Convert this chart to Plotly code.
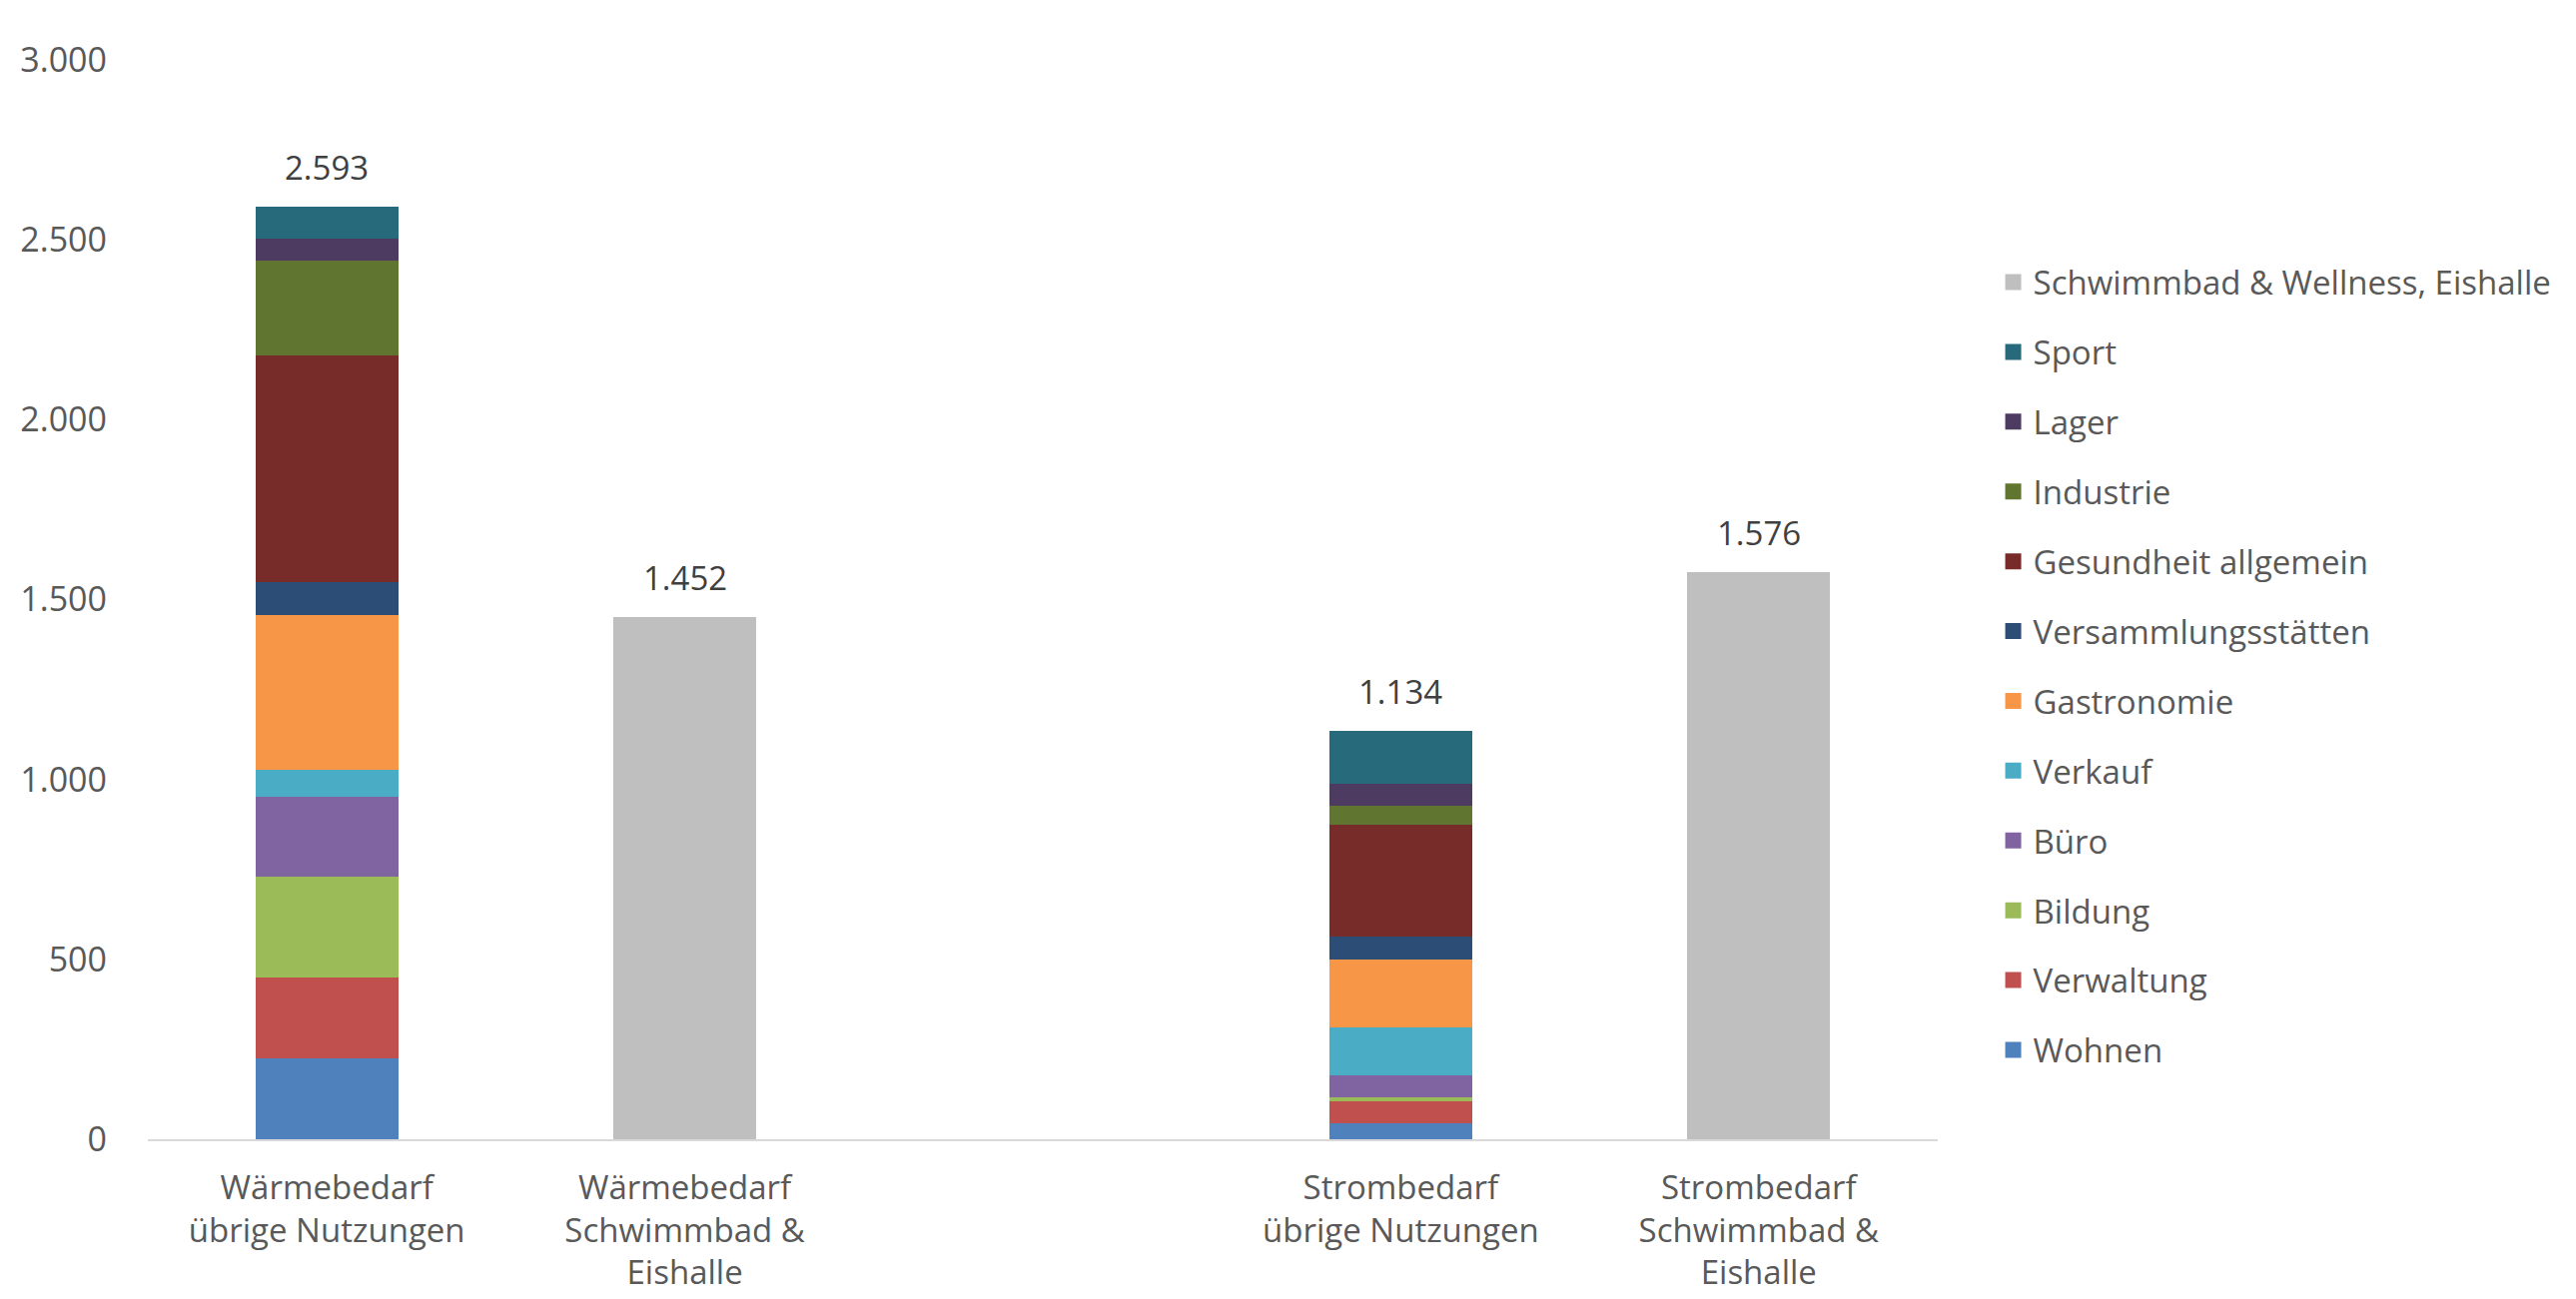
import plotly.graph_objects as go

categories = ["Wärmebedarf<br>übrige Nutzungen", "Wärmebedarf<br>Schwimmbad &<br>Eishalle", "",
              "Strombedarf<br>übrige Nutzungen", "Strombedarf<br>Schwimmbad &<br>Eishalle"]

# stacked segments for the "übrige Nutzungen" bars (Wärme, Strom)
series_names = ["Wohnen", "Verwaltung", "Bildung", "Büro", "Verkauf", "Gastronomie",
                "Versammlungsstätten", "Gesundheit allgemein", "Industrie", "Lager", "Sport"]
waerme_values = [224, 225, 280, 224, 74, 430, 91, 631, 264, 59, 91]
strom_values = [44, 62, 11, 61, 133, 189, 62, 313, 52, 60, 147]
series_colors = ["#4F81BD", "#C0504D", "#9BBB59", "#8064A2", "#4BACC6", "#F79646",
                 "#2C4D75", "#772C2A", "#5F7530", "#4D3B62", "#276A7C"]

pool_name = "Schwimmbad & Wellness, Eishalle"
pool_values = [1452, 1576]
pool_color = "#BFBFBF"

y_ticks = [0, 500, 1000, 1500, 2000, 2500, 3000]

idx_w_other = 0
idx_w_pool = 1
idx_s_other = 3
idx_s_pool = 4

FONT = "Open Sans"
fig = go.Figure()
for i, name in enumerate(series_names):
    fig.add_trace(go.Bar(
        x=[idx_w_other, idx_s_other], y=[waerme_values[i], strom_values[i]],
        name=name, marker=dict(color=series_colors[i], line=dict(width=0)),
        width=0.4, showlegend=False))
fig.add_trace(go.Bar(
    x=[idx_w_pool, idx_s_pool], y=pool_values, name=pool_name,
    marker=dict(color=pool_color, line=dict(width=0)), width=0.4, showlegend=False))

# legend entries (top to bottom: pool, then series in reverse stacking order)
legend_names = [pool_name] + series_names[::-1]
legend_colors = [pool_color] + series_colors[::-1]
for name, col in zip(legend_names, legend_colors):
    fig.add_trace(go.Scatter(
        x=[None], y=[None], mode="markers", name=name, legendgroup=name,
        marker=dict(symbol="square", size=16, color=col, line=dict(width=0))))

totals = [(idx_w_other, sum(waerme_values)), (idx_w_pool, pool_values[0]),
          (idx_s_other, sum(strom_values)), (idx_s_pool, pool_values[1])]
for xi, tot in totals:
    fig.add_annotation(x=xi, y=tot, text=f"{tot:,}".replace(",", "."), showarrow=False,
                       yanchor="bottom", yshift=15,
                       font=dict(family=FONT, size=33, color="#404040"))

fig.update_layout(
    width=2579, height=1301,
    barmode="stack",
    margin=dict(l=134, r=647, t=52, b=168),
    paper_bgcolor="white", plot_bgcolor="white",
    separators=",.",
    font=dict(family=FONT, size=33, color="#595959"),
    showlegend=True,
    legend=dict(traceorder="grouped", tracegroupgap=24,
                x=1.031, xanchor="left", y=0.82, yanchor="top",
                font=dict(family=FONT, size=33, color="#595959"),
                itemwidth=30, itemsizing="trace", bgcolor="rgba(0,0,0,0)"),
    xaxis=dict(range=[-0.5, 4.5], tickmode="array", tickvals=list(range(len(categories))),
               ticktext=categories, showgrid=False, zeroline=False,
               showline=True, linecolor="#D9D9D9", linewidth=2, ticks="",
               ticklabelstandoff=18),
    yaxis=dict(range=[0, 3000], tickmode="array", tickvals=y_ticks,
               tickformat=",d", showgrid=False, zeroline=False, showline=False,
               ticklabelstandoff=40, tickfont=dict(size=34)),
)

fig.write_html("out.html")
